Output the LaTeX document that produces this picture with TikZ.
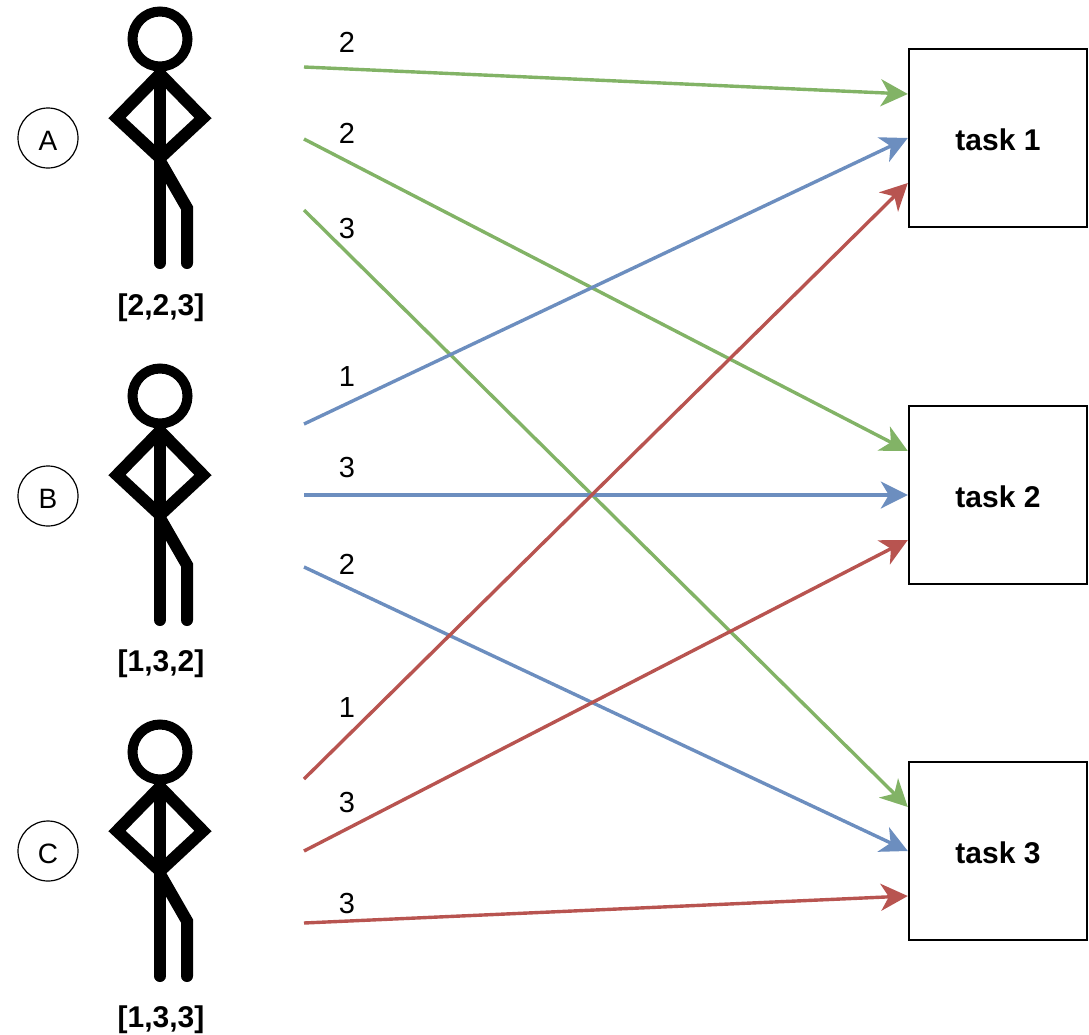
\documentclass[tikz,border=0pt]{standalone}
\usepackage{fontspec}
\setmainfont{Liberation Sans}
\usetikzlibrary{arrows.meta}
\definecolor{taskgreen}{HTML}{82B366}
\definecolor{taskblue}{HTML}{6C8EBF}
\definecolor{taskred}{HTML}{B85450}
\tikzset{
	stickman/.pic={
		\draw[line width=10pt] (0,0) circle (27.5);
		\draw[line width=12pt,line cap=round] (0,33) -- (0,224);
		\draw[line width=12pt,line cap=round] (0,35) -- (-43,79) -- (0,119) -- (43,79) -- cycle;
		\draw[line width=12pt,line cap=round] (0,122) -- (27,169) -- (27,224);
	},
	who/.style={draw,circle,line width=1.2pt,minimum size=60pt,inner sep=0pt,font=\fontsize{28}{30}\selectfont,text height=24pt,text depth=0pt},
	prefs/.style={font=\bfseries\fontsize{30}{32}\selectfont},
	taskbox/.style={draw,line width=2.4pt,minimum size=178pt,inner sep=0pt,font=\bfseries\fontsize{30}{32}\selectfont,text height=25pt,text depth=0pt},
	rank/.style={font=\fontsize{29}{30}\selectfont},
	link/.style={line width=3.4pt,-{Stealth[length=27pt,width=27pt,inset=8pt]}}
}
\begin{document}
\begin{tikzpicture}[x=1pt,y=-1pt]
\useasboundingbox (0,0) rectangle (1089,1034);
	\pic at (160,39) {stickman};
	\pic at (160,396) {stickman};
	\pic at (160,752) {stickman};

	\node[who] (whoA) at (48,138) {A};
	\node[who] (whoB) at (48,496) {B};
	\node[who] (whoC) at (48,851) {C};

	\node[prefs] (prefsA) at (161,308) {[2,2,3]};
	\node[prefs] (prefsB) at (161,664) {[1,3,2]};
	\node[prefs] (prefsC) at (161,1020) {[1,3,3]};

	\node[taskbox] (task1) at (998,138) {task 1};
	\node[taskbox] (task2) at (998,495) {task 2};
	\node[taskbox] (task3) at (998,851) {task 3};

	% free ends on the people's side
	\coordinate (A1) at (304,67);
	\coordinate (A2) at (304,139);
	\coordinate (A3) at (304,210);
	\coordinate (B1) at (304,424);
	\coordinate (B2) at (304,495);
	\coordinate (B3) at (304,567);
	\coordinate (C1) at (304,779);
	\coordinate (C2) at (304,851);
	\coordinate (C3) at (304,923);

	\draw[link,taskgreen] (A1) -- ([yshift=44pt]task1.west);
	\draw[link,taskgreen] (A2) -- ([yshift=44pt]task2.west);
	\draw[link,taskgreen] (A3) -- ([yshift=44pt]task3.west);
	\draw[link,taskblue] (B1) -- (task1.west);
	\draw[link,taskblue] (B2) -- (task2.west);
	\draw[link,taskblue] (B3) -- (task3.west);
	\draw[link,taskred] (C1) -- ([yshift=-45pt]task1.west);
	\draw[link,taskred] (C2) -- ([yshift=-45pt]task2.west);
	\draw[link,taskred] (C3) -- ([yshift=-45pt]task3.west);

	\node[rank] (rankA1) at (347,42) {2};
	\node[rank] (rankA2) at (347,133) {2};
	\node[rank] (rankA3) at (347,229) {3};
	\node[rank] (rankB1) at (347,377) {1};
	\node[rank] (rankB2) at (347,468) {3};
	\node[rank] (rankB3) at (347,564) {2};
	\node[rank] (rankC1) at (347,708) {1};
	\node[rank] (rankC2) at (347,803) {3};
	\node[rank] (rankC3) at (347,904) {3};
\end{tikzpicture}
\end{document}
